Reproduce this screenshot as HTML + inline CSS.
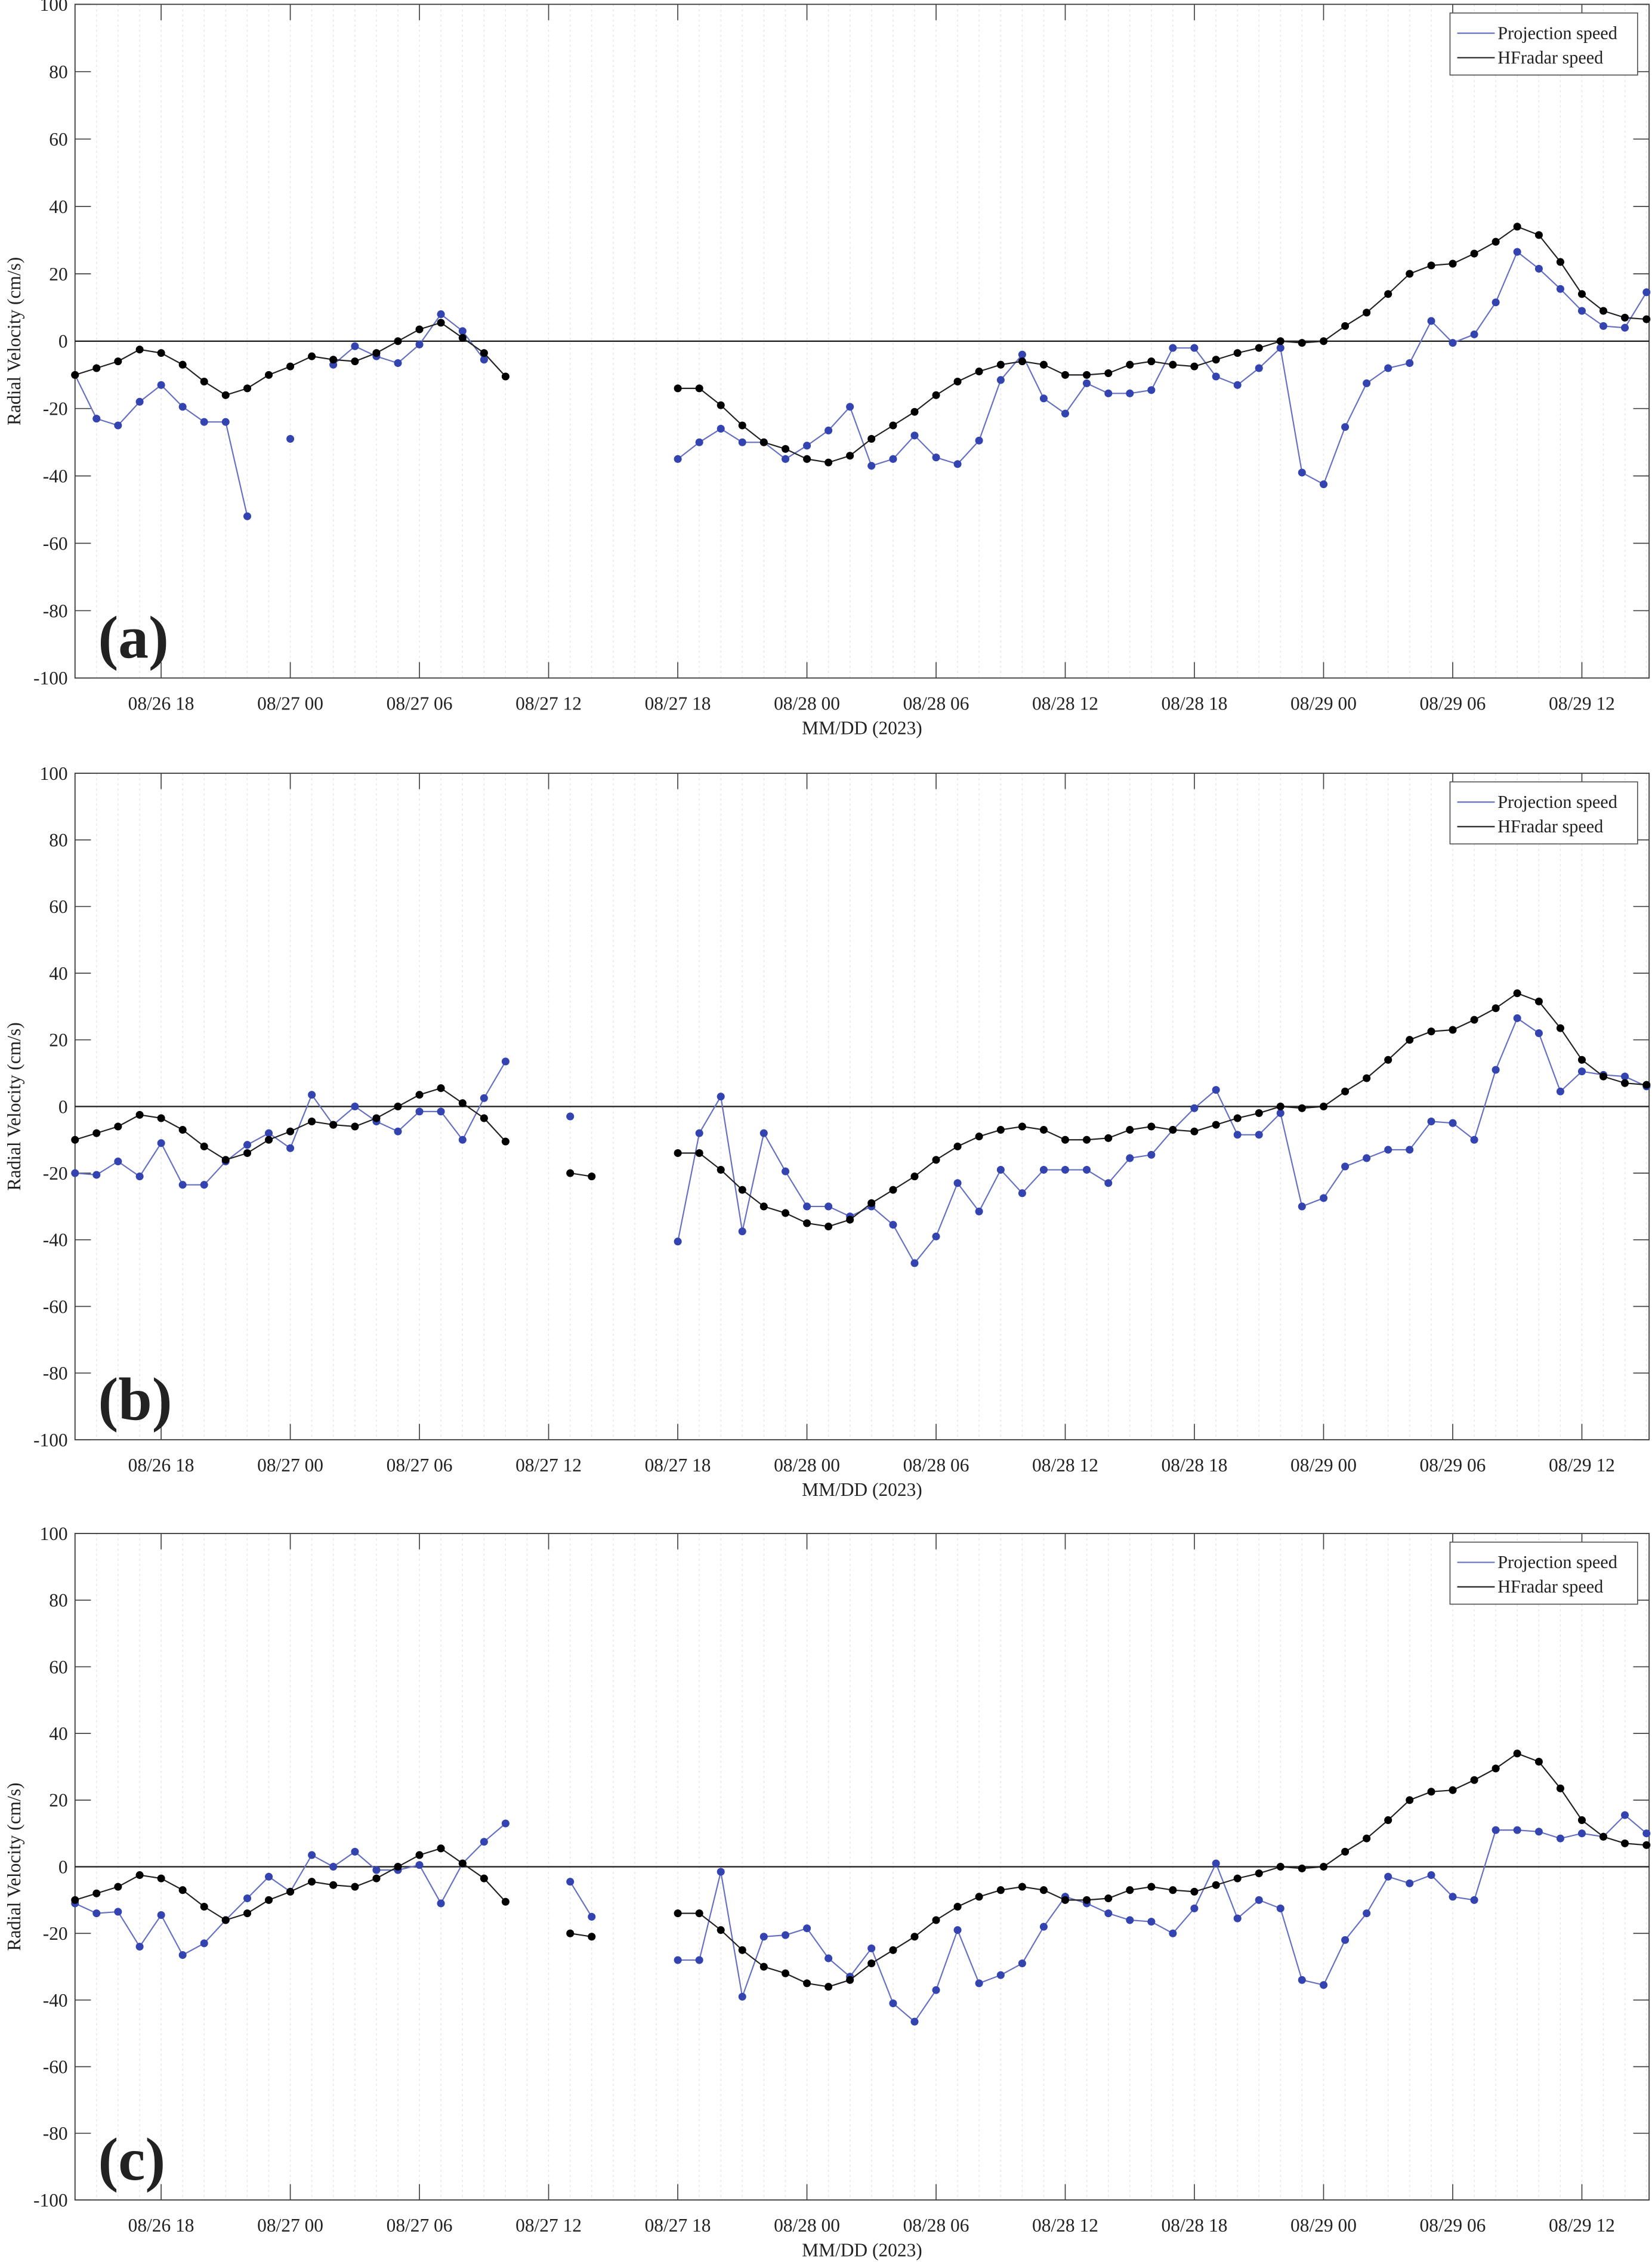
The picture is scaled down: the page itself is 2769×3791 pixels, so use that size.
<!DOCTYPE html>
<html><head><meta charset="utf-8"><style>
html,body{margin:0;padding:0;background:#fff;}
svg{display:block;}
text{font-family:"Liberation Serif",serif;fill:#222;}
</style></head><body>
<svg id="s" width="2769" height="3791" viewBox="0 0 1145 1568" preserveAspectRatio="none" xmlns="http://www.w3.org/2000/svg"></svg>
<script>
var N=null;
var black=[-10,-8,-6,-2.5,-3.5,-7,-12,-16,-14,-10,-7.5,-4.5,-5.5,-6,-3.5,0,3.5,5.5,1,-3.5,-10.5,N,N,N,N,N,N,N,
-14,-14,-19,-25,-30,-32,-35,-36,-34,-29,-25,-21,-16,-12,-9,-7,-6,-7,-10,-10,-9.5,-7,-6,-7,-7.5,-5.5,-3.5,-2,0,-0.5,0,4.5,8.5,14,20,22.5,23,26,29.5,34,31.5,23.5,14,9,7,6.5];
var blackBC=black.slice(); blackBC[23]=-20; blackBC[24]=-21;
var blueA=[-10,-23,-25,-18,-13,-19.5,-24,-24,-52,N,-29,N,-7,-1.5,-4.5,-6.5,-1,8,3,-5.5,N,N,N,N,N,N,N,N,
-35,-30,-26,-30,-30,-35,-31,-26.5,-19.5,-37,-35,-28,-34.5,-36.5,-29.5,-11.5,-4,-17,-21.5,-12.5,-15.5,-15.5,-14.5,-2,-2,-10.5,-13,-8,-2,-39,-42.5,-25.5,-12.5,-8,-6.5,6,-0.5,2,11.5,26.5,21.5,15.5,9,4.5,4,14.5];
var blueB=[-20,-20.5,-16.5,-21,-11,-23.5,-23.5,-16.5,-11.5,-8,-12.5,3.5,-5.5,0,-4.5,-7.5,-1.5,-1.5,-10,2.5,13.5,N,N,-3,N,N,N,N,
-40.5,-8,3,-37.5,-8,-19.5,-30,-30,-33,-30,-35.5,-47,-39,-23,-31.5,-19,-26,-19,-19,-19,-23,-15.5,-14.5,-7,-0.5,5,-8.5,-8.5,-2,-30,-27.5,-18,-15.5,-13,-13,-4.5,-5,-10,11,26.5,22,4.5,10.5,9.5,9,6];
var blueC=[-11,-14,-13.5,-24,-14.5,-26.5,-23,-16,-9.5,-3,-7.5,3.5,0,4.5,-1,-1,0.5,-11,1,7.5,13,N,N,-4.5,-15,N,N,N,
-28,-28,-1.5,-39,-21,-20.5,-18.5,-27.5,-33,-24.5,-41,-46.5,-37,-19,-35,-32.5,-29,-18,-9,-11,-14,-16,-16.5,-20,-12.5,1,-15.5,-10,-12.5,-34,-35.5,-22,-14,-3,-5,-2.5,-9,-10,11,11,10.5,8.5,10,9,15.5,10];
var panels=[{top:3,bot:470,lab:"(a)",bl:black,bu:blueA},{top:536,bot:998,lab:"(b)",bl:blackBC,bu:blueB},{top:1063,bot:1525,lab:"(c)",bl:blackBC,bu:blueC}];
var L=52,R=1143,dx=14.92;
function X(h){return L+h*dx;}
var o='';
var ticks=[["08/26 18",4],["08/27 00",10],["08/27 06",16],["08/27 12",22],["08/27 18",28],["08/28 00",34],["08/28 06",40],["08/28 12",46],["08/28 18",52],["08/29 00",58],["08/29 06",64],["08/29 12",70]];
panels.forEach(function(p){
 var t=p.top,b=p.bot,z=(t+b)/2,k=(b-t)/200;
 function Y(v){return z-v*k;}
 for(var h=1;h<74;h++){o+='<line x1="'+X(h)+'" y1="'+t+'" x2="'+X(h)+'" y2="'+b+'" stroke="#e6e6e6" stroke-width="0.6" stroke-dasharray="1.5,2"/>';}
 o+='<rect x="'+L+'" y="'+t+'" width="'+(R-L)+'" height="'+(b-t)+'" fill="none" stroke="#444" stroke-width="0.8"/>';
 for(var v=-100;v<=100;v+=20){var y=Y(v);
  o+='<line x1="'+L+'" y1="'+y+'" x2="'+(L+11)+'" y2="'+y+'" stroke="#444" stroke-width="0.7"/><line x1="'+(R-11)+'" y1="'+y+'" x2="'+R+'" y2="'+y+'" stroke="#444" stroke-width="0.7"/>';
  o+='<text x="'+(L-5)+'" y="'+(y+4.5)+'" font-size="13" text-anchor="end">'+v+'</text>';}
 ticks.forEach(function(tk){var x=X(tk[1]);
  o+='<line x1="'+x+'" y1="'+b+'" x2="'+x+'" y2="'+(b-11)+'" stroke="#444" stroke-width="0.7"/><line x1="'+x+'" y1="'+t+'" x2="'+x+'" y2="'+(t+11)+'" stroke="#444" stroke-width="0.7"/>';
  o+='<text x="'+x+'" y="'+(b+22)+'" font-size="13" text-anchor="middle">'+tk[0]+'</text>';});
 o+='<text x="'+((L+R)/2)+'" y="'+(b+39)+'" font-size="13" text-anchor="middle">MM/DD (2023)</text>';
 o+='<text transform="translate(14,'+z+') rotate(-90)" font-size="13" text-anchor="middle">Radial Velocity (cm/s)</text>';
 o+='<line x1="'+L+'" y1="'+z+'" x2="'+R+'" y2="'+z+'" stroke="#222" stroke-width="1"/>';
 function series(d,col,lc){var path='',pen=false,dots='';
  d.forEach(function(v,h){if(v===N){pen=false;return;}var x=X(h),y=Y(v);
   path+=(pen?'L':'M')+x.toFixed(1)+' '+y.toFixed(1);pen=true;
   dots+='<circle cx="'+x.toFixed(1)+'" cy="'+y.toFixed(1)+'" r="2.7" fill="'+col+'"/>';});
  return '<path d="'+path+'" fill="none" stroke="'+lc+'" stroke-width="0.9"/>'+dots;}
 o+=series(p.bu,"#3344b0","#6670c0");
 o+=series(p.bl,"#000","#222");
 o+='<rect x="1005" y="'+(t+6)+'" width="130" height="43" fill="#fff" stroke="#555" stroke-width="0.7"/>';
 o+='<line x1="1010" y1="'+(t+20)+'" x2="1036" y2="'+(t+20)+'" stroke="#6670c0" stroke-width="0.9"/><line x1="1010" y1="'+(t+37)+'" x2="1036" y2="'+(t+37)+'" stroke="#222" stroke-width="0.9"/>';
 o+='<text x="1038" y="'+(t+24)+'" font-size="12.5">Projection speed</text><text x="1038" y="'+(t+41)+'" font-size="12.5">HFradar speed</text>';
 o+='<text x="68" y="'+(b-14)+'" font-size="42" font-weight="bold" fill="#000">'+p.lab+'</text>';
});
document.getElementById('s').innerHTML=o;
</script>
</body></html>
